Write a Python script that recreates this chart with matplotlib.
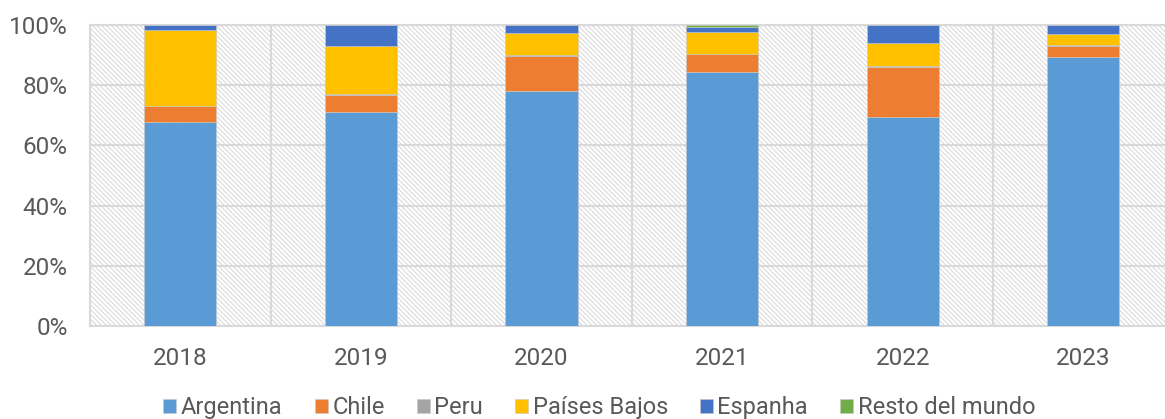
import numpy as np
import matplotlib.pyplot as plt
from matplotlib.patches import Rectangle
from matplotlib.ticker import FuncFormatter

plt.rcParams['font.family'] = ['Roboto', 'DejaVu Sans']
plt.rcParams['hatch.color'] = '#dedede'
plt.rcParams['hatch.linewidth'] = 0.9

years = ["2018", "2019", "2020", "2021", "2022", "2023"]
argentina = [67.8, 71.1, 78.2, 84.3, 69.5, 89.5]
chile = [5.3, 5.6, 11.7, 6.2, 16.6, 3.4]
peru = [0.0, 0.3, 0.1, 0.0, 0.3, 0.5]
paises_bajos = [25.2, 16.0, 7.3, 7.3, 7.6, 3.6]
espanha = [1.7, 7.0, 2.7, 1.5, 6.0, 3.0]
resto = [0.0, 0.0, 0.0, 0.7, 0.0, 0.0]

series = [
    ("Argentina", argentina, "#5b9bd5"),
    ("Chile", chile, "#ed7d31"),
    ("Peru", peru, "#a5a5a5"),
    ("Países Bajos", paises_bajos, "#ffc000"),
    ("Espanha", espanha, "#4472c4"),
    ("Resto del mundo", resto, "#70ad47"),
]

fig = plt.figure(figsize=(11.65, 4.19), dpi=100)
ax = fig.add_axes([0.0773, 0.222, 0.930, 0.718])

x = np.arange(len(years))
totals = np.zeros(len(years))
for name, vals, col in series:
    v = np.array(vals, dtype=float)
    ax.bar(x, v, bottom=totals, width=0.4, color=col, label=name, zorder=3,
           edgecolor='#c9c9c9', linewidth=0.4)
    totals += v

ax.set_xlim(-0.5, len(years) - 0.5)
ax.set_ylim(0, 100)

# hatched background
bg = Rectangle((0, 0), 1, 1, transform=ax.transAxes, facecolor='white',
               hatch='\\' * 7, edgecolor='#dedede', linewidth=0, zorder=0)
ax.add_patch(bg)

ax.set_yticks(np.arange(0, 101, 20))
ax.yaxis.set_major_formatter(FuncFormatter(lambda v, p: f"{int(v)}%"))
ax.set_xticks(x)
ax.set_xticklabels(years)
ax.set_xticks(np.arange(-0.5, len(years), 1), minor=True)
ax.grid(axis='y', which='major', color='#d9d9d9', linewidth=1.5, zorder=1)
ax.grid(axis='x', which='minor', color='#d9d9d9', linewidth=1.5, zorder=1)
ax.grid(axis='x', which='major', visible=False)
ax.tick_params(axis='both', which='both', length=0, labelsize=17.5, labelcolor='#595959')
ax.tick_params(axis='x', pad=15)
ax.tick_params(axis='y', pad=16)
for s in ax.spines.values():
    s.set_color('#d9d9d9')
    s.set_linewidth(1.5)

ax.legend(loc='center', bbox_to_anchor=(0.47, -0.272), ncol=6, frameon=False,
          fontsize=17, labelcolor='#595959', handlelength=0.55, handleheight=0.55,
          handletextpad=0.2, columnspacing=1.35, borderaxespad=0)

fig.savefig("out.png", dpi=100)
